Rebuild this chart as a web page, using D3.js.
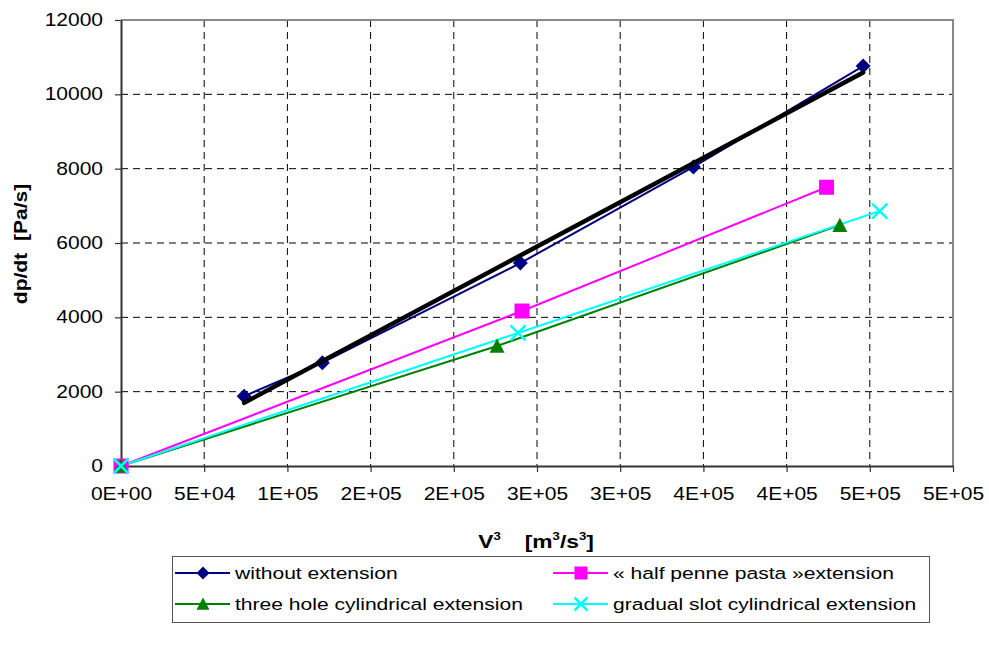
<!DOCTYPE html>
<html>
<head>
<meta charset="utf-8">
<script src="https://cdn.jsdelivr.net/npm/d3@7"></script>
<style>
  body { margin: 0; background: #fff; }
  text { font-family: "Liberation Sans", Arial, sans-serif; fill: #000; }
</style>
</head>
<body>
<div id="chart"></div>
<script>
// values
var seriesNames = ["without extension", "\u00ab half penne pasta \u00bbextension",
                   "three hole cylindrical extension", "gradual slot cylindrical extension"];

var withoutX = [74000, 121000, 240000, 344000, 446000];
var withoutY = [1880, 2780, 5460, 8045, 10760];

var penneX = [0, 241000, 424000];
var penneY = [0, 4170, 7500];

var threeHoleX = [0, 226000, 432000];
var threeHoleY = [0, 3230, 6480];

var slotX = [0, 238600, 456000];
var slotY = [0, 3580, 6860];

var yTicks = [0, 2000, 4000, 6000, 8000, 10000, 12000];
var xTicks = [0, 50000, 100000, 150000, 200000, 250000, 300000, 350000, 400000, 450000, 500000];
var xTickLabels = ["0E+00", "5E+04", "1E+05", "2E+05", "2E+05", "3E+05",
                   "3E+05", "4E+05", "4E+05", "5E+05", "5E+05"];

var margin = { top: 20, right: 36, bottom: 180, left: 121 },
    width = 989 - margin.left - margin.right,
    height = 646 - margin.top - margin.bottom;

var SX = 1.2; // text looks horizontally stretched in the original

var svg = d3.select("#chart").append("svg")
    .attr("width", 989)
    .attr("height", 646);

var g = svg.append("g")
    .attr("transform", "translate(" + margin.left + "," + margin.top + ")");

var x = d3.scaleLinear().domain([0, 500000]).range([0, width]);
var y = d3.scaleLinear().domain([0, 12000]).range([height, 0]);

function zip(xs, ys) {
  return xs.map(function (v, i) { return { x: v, y: ys[i] }; });
}

var series = [
  { name: seriesNames[0], data: zip(withoutX, withoutY), color: "#000080", marker: "diamond" },
  { name: seriesNames[1], data: zip(penneX, penneY), color: "#ff00ff", marker: "square" },
  { name: seriesNames[2], data: zip(threeHoleX, threeHoleY), color: "#008000", marker: "triangle" },
  { name: seriesNames[3], data: zip(slotX, slotY), color: "#00ffff", marker: "cross" }
];

function markerPath(type, r) {
  if (type === "diamond") return "M0," + (-r) + "L" + r + ",0L0," + r + "L" + (-r) + ",0Z";
  if (type === "square") return "M" + (-r) + "," + (-r) + "h" + 2 * r + "v" + 2 * r + "h" + (-2 * r) + "Z";
  if (type === "triangle") return "M0," + (-r) + "L" + r + "," + (r * 0.9) + "L" + (-r) + "," + (r * 0.9) + "Z";
  return "M" + (-r) + "," + (-r) + "L" + r + "," + r + "M" + r + "," + (-r) + "L" + (-r) + "," + r;
}

function drawMarker(sel, s, r) {
  sel.append("path")
    .attr("d", markerPath(s.marker, r))
    .attr("fill", s.marker === "cross" ? "none" : s.color)
    .attr("stroke", s.color)
    .attr("stroke-width", s.marker === "cross" ? 2.5 : 0);
}

// grid
g.append("g").selectAll("line")
  .data(yTicks.filter(function (d) { return d > 0 && d < 12000; }))
  .enter().append("line")
  .attr("x1", 0).attr("x2", width)
  .attr("y1", function (d) { return y(d); })
  .attr("y2", function (d) { return y(d); })
  .attr("stroke", "#000").attr("stroke-width", 1)
  .attr("stroke-dasharray", "7,5");

g.append("g").selectAll("line")
  .data(xTicks.filter(function (d) { return d > 0 && d < 500000; }))
  .enter().append("line")
  .attr("y1", 0).attr("y2", height)
  .attr("x1", function (d) { return x(d); })
  .attr("x2", function (d) { return x(d); })
  .attr("stroke", "#000").attr("stroke-width", 1)
  .attr("stroke-dasharray", "7,5");

// frame top / right
g.append("path")
  .attr("d", "M0,0H" + width + "V" + height)
  .attr("fill", "none")
  .attr("stroke", "#888").attr("stroke-width", 2);

// axes
var xAxis = g.append("g")
  .attr("transform", "translate(0," + height + ")")
  .call(d3.axisBottom(x).tickValues(xTicks).tickSize(6).tickSizeOuter(0).tickPadding(16)
        .tickFormat(function (d, i) { return xTickLabels[i]; }));

var yAxis = g.append("g")
  .call(d3.axisLeft(y).tickValues(yTicks).tickSize(6).tickSizeOuter(0)
        .tickFormat(d3.format("d")));

[xAxis, yAxis].forEach(function (a) {
  a.select(".domain").attr("stroke", "#333").attr("stroke-width", 2);
  a.selectAll(".tick line").attr("stroke", "#333").attr("stroke-width", 1.2);
  a.selectAll("text").style("font-size", "17.5px").attr("fill", "#000");
});
xAxis.selectAll("text").attr("transform", "scale(" + SX + ",1)");
yAxis.selectAll("text").attr("x", 0).attr("transform", "translate(-18,0) scale(" + SX + ",1)");

// series lines
var line = d3.line().x(function (d) { return x(d.x); }).y(function (d) { return y(d.y); });

series.forEach(function (s) {
  g.append("path")
    .datum(s.data)
    .attr("d", line)
    .attr("fill", "none")
    .attr("stroke", s.color)
    .attr("stroke-width", 2);
});

series.forEach(function (s) {
  g.append("g").selectAll("g")
    .data(s.data)
    .enter().append("g")
    .attr("transform", function (d) { return "translate(" + x(d.x) + "," + y(d.y) + ")"; })
    .each(function () { drawMarker(d3.select(this), s, 7.5); });
});

// linear trend line of the first series
var tx = d3.mean(withoutX), ty = d3.mean(withoutY);
var slope = d3.sum(withoutX, function (v, i) { return (v - tx) * (withoutY[i] - ty); }) /
            d3.sum(withoutX, function (v) { return (v - tx) * (v - tx); });
var trend = d3.extent(withoutX).map(function (v) { return { x: v, y: ty + slope * (v - tx) }; });

g.append("path")
  .datum(trend)
  .attr("d", line)
  .attr("fill", "none")
  .attr("stroke", "#000")
  .attr("stroke-width", 4.5)
  .attr("stroke-linecap", "round");

// axis titles
svg.append("text")
  .attr("transform", "translate(21,244) rotate(-90) scale(1.17,1)")
  .attr("text-anchor", "middle")
  .attr("dy", "0.35em")
  .style("font-size", "18px")
  .style("font-weight", "bold")
  .style("white-space", "pre")
  .text("dp/dt  [Pa/s]");

var xt = svg.append("text")
  .attr("transform", "translate(536,548) scale(" + SX + ",1)")
  .attr("text-anchor", "middle")
  .style("font-size", "19px")
  .style("font-weight", "bold");
xt.append("tspan").text("V");
xt.append("tspan").attr("dy", -8).style("font-size", "11px").text("3");
xt.append("tspan").attr("dy", 8).attr("dx", 20).text("[m");
xt.append("tspan").attr("dy", -8).style("font-size", "11px").text("3");
xt.append("tspan").attr("dy", 8).text("/s");
xt.append("tspan").attr("dy", -8).style("font-size", "11px").text("3");
xt.append("tspan").attr("dy", 8).text("]");

// legend
var legend = svg.append("g");
legend.append("rect")
  .attr("x", 172.5).attr("y", 556.5)
  .attr("width", 757).attr("height", 66)
  .attr("fill", "#fff")
  .attr("stroke", "#555").attr("stroke-width", 1);

var legendPos = [[175, 573], [553, 573], [175, 604], [553, 604]];

series.forEach(function (s, i) {
  var item = legend.append("g")
    .attr("transform", "translate(" + legendPos[i][0] + "," + legendPos[i][1] + ")");
  item.append("line")
    .attr("x1", 0).attr("x2", 55)
    .attr("stroke", s.color).attr("stroke-width", 2);
  var m = item.append("g").attr("transform", "translate(28,0)");
  drawMarker(m, s, 6.5);
  item.append("text")
    .attr("x", 0)
    .attr("dy", "0.35em")
    .attr("transform", "translate(60,0) scale(1.24,1)")
    .style("font-size", "17px")
    .text(s.name);
});
</script>
</body>
</html>
